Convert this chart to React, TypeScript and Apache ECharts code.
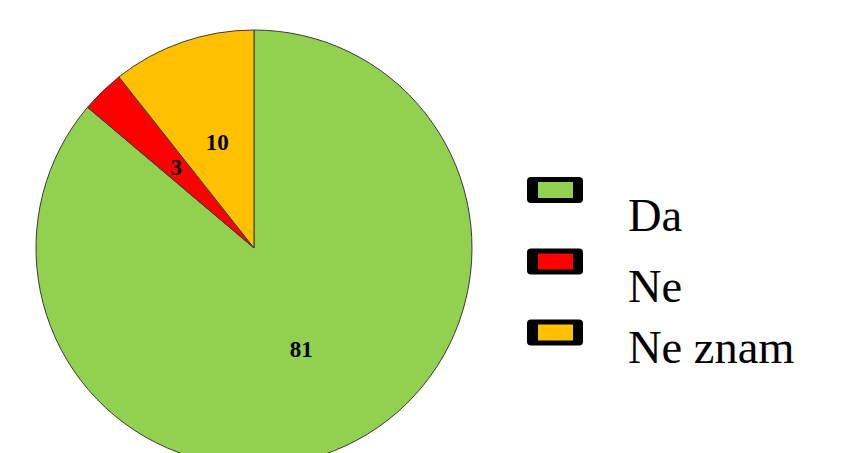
import React, { useEffect, useRef } from "react";
import * as echarts from "echarts";

const categories = ["Da", "Ne", "Ne znam"];
const values = [81, 3, 10];
const colors = ["#92D050", "#FF0000", "#FFC000"];
// legend text vertical positions (middle of text)
const legendIconCenters = [190, 261.5, 332.5];
const legendTextMiddles = [215.5, 286, 347];

export default function App() {
  const ref = useRef<HTMLDivElement>(null);
  useEffect(() => {
    if (!ref.current) return;
    const chart = echarts.init(ref.current, undefined, { renderer: "svg" });
    const serif = "'Times New Roman', 'Liberation Serif', serif";
    const graphics: any[] = [];
    categories.forEach((name, i) => {
      const cy = legendIconCenters[i];
      graphics.push({
        type: "rect",
        left: 527,
        top: cy - 13,
        shape: { width: 56, height: 26, r: 4 },
        style: { fill: "#000000" },
        silent: true,
      });
      graphics.push({
        type: "rect",
        left: 538,
        top: cy - 8,
        shape: { width: 35, height: 16 },
        style: { fill: colors[i] },
        silent: true,
      });
      graphics.push({
        type: "text",
        x: 628,
        y: legendTextMiddles[i],
        style: {
          text: name,
          fill: "#000000",
          fontFamily: serif,
          fontSize: 46.5,
          verticalAlign: "middle",
          align: "left",
        },
        silent: true,
      });
    });
    chart.setOption({
      animation: false,
      backgroundColor: "#ffffff",
      graphic: graphics,
      series: [
        {
          type: "pie",
          center: [254, 248],
          radius: [0, 218],
          startAngle: 90,
          clockwise: true,
          avoidLabelOverlap: false,
          silent: true,
          emphasis: { disabled: true },
          itemStyle: { borderColor: "#3a3a3a", borderWidth: 1 },
          label: {
            show: true,
            position: "inside",
            formatter: "{c}",
            color: "#000000",
            fontFamily: serif,
            fontWeight: "bold",
            fontSize: 23,
          },
          labelLine: { show: false },
          data: categories.map((name, i) => ({
            name,
            value: values[i],
            itemStyle: { color: colors[i] },
          })),
        },
      ],
    });
    return () => chart.dispose();
  }, []);
  return (
    <div
      ref={ref}
      style={{ position: "fixed", left: 0, top: 0, width: 848, height: 453 }}
    />
  );
}
